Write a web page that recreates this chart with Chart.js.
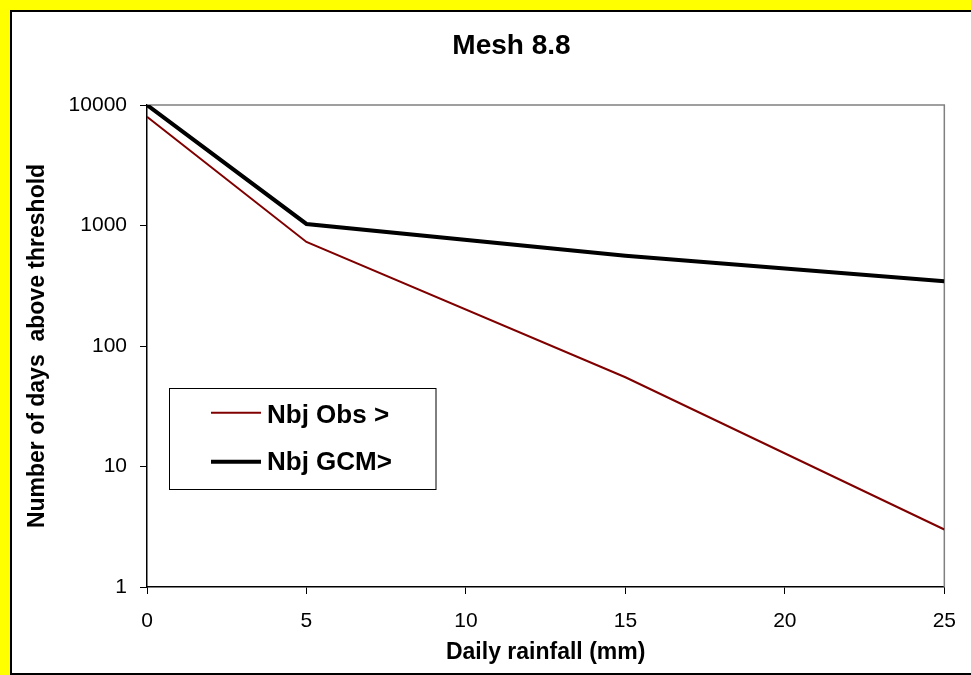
<!DOCTYPE html>
<html>
<head>
<meta charset="utf-8">
<script src="https://cdn.jsdelivr.net/npm/chart.js@4"></script>
<style>
  html,body{margin:0;padding:0;background:#ffff00;overflow:hidden;width:971px;height:675px}
  #frame{position:absolute;left:10px;top:10px;width:1000px;height:665px;box-sizing:border-box;border:2px solid #000;background:#fff}
  #wrap{position:absolute;left:0;top:0;width:959px;height:661px}
</style>
</head>
<body>
<div id="frame"><div id="wrap"><canvas id="chart"></canvas></div></div>
<script>
// data
const rainfall = [0, 5, 15, 25];
const obsDays = [8000, 730, 55, 3];
const gcmDays = [10000, 1030, 560, 345];
const yTicks = [1, 10, 100, 1000, 10000];
const xTicks = [0, 5, 10, 15, 20, 25];
const seriesNames = ['Nbj Obs >', 'Nbj GCM>'];
const chartTitle = 'Mesh 8.8';

const FONT = "'Liberation Sans', Arial, sans-serif";

function pts(ys){ return rainfall.map((x,i)=>({x:x,y:ys[i]})); }

// title, plot-area frame and legend box drawn by hand (Excel style)
const excelBits = {
  id:'excelBits',
  beforeDatasetsDraw(chart){
    const {ctx, chartArea:a} = chart;
    ctx.save();
    ctx.strokeStyle = '#808080';
    ctx.lineWidth = 1.5;
    ctx.beginPath();
    ctx.moveTo(a.left, a.top); ctx.lineTo(a.right, a.top); ctx.lineTo(a.right, a.bottom);
    ctx.stroke();
    ctx.restore();
  },
  afterDraw(chart){
    const ctx = chart.ctx;
    ctx.save();
    ctx.fillStyle = '#000';
    ctx.font = 'bold 28px ' + FONT;
    ctx.textAlign = 'center';
    ctx.textBaseline = 'alphabetic';
    ctx.fillText(chartTitle, 499.5, 42);

    // legend
    ctx.fillStyle = '#fff';
    ctx.fillRect(157.5, 376, 266.5, 101);
    ctx.strokeStyle = '#000';
    ctx.lineWidth = 1;
    ctx.strokeRect(157.5, 376.5, 266.5, 101);
    const rows = [400.7, 449.7];
    const base = [411.3, 458.3];
    chart.data.datasets.forEach((ds,i)=>{
      ctx.strokeStyle = ds.borderColor;
      ctx.lineWidth = ds.borderWidth;
      ctx.beginPath();
      ctx.moveTo(199, rows[i]); ctx.lineTo(249, rows[i]);
      ctx.stroke();
      ctx.fillStyle = '#000';
      ctx.font = 'bold 26px ' + FONT;
      ctx.textAlign = 'left';
      ctx.fillText(ds.label, 255, base[i]);
    });
    ctx.restore();
  }
};

new Chart(document.getElementById('chart'), {
  type:'line',
  data:{
    datasets:[
      {label:seriesNames[0], data:pts(obsDays), borderColor:'#800000', borderWidth:2, pointRadius:0, tension:0},
      {label:seriesNames[1], data:pts(gcmDays), borderColor:'#000000', borderWidth:4, pointRadius:0, tension:0}
    ]
  },
  options:{
    responsive:true,
    maintainAspectRatio:false,
    animation:false,
    layout:{padding:{top:93, right:25, left:0, bottom:0}},
    plugins:{legend:{display:false}, title:{display:false}, tooltip:{enabled:false}},
    scales:{
      x:{
        type:'linear', min:0, max:25,
        afterBuildTicks:s=>{ s.ticks = xTicks.map(v=>({value:v})); },
        afterFit:s=>{ s.height = 86; },
        grid:{drawOnChartArea:false, tickLength:7, tickColor:'#000', tickWidth:1},
        border:{color:'#000', width:1.5},
        ticks:{color:'#000', font:{family:FONT, size:21}, padding:15, maxRotation:0},
        title:{display:true, text:'Daily rainfall (mm)', color:'#000', font:{family:FONT, size:23, weight:'bold'}, padding:{top:0, bottom:7}}
      },
      y:{
        type:'logarithmic', min:1, max:10000,
        afterBuildTicks:s=>{ s.ticks = yTicks.map(v=>({value:v})); },
        afterFit:s=>{ s.width = 135; },
        grid:{drawOnChartArea:false, tickLength:7, tickColor:'#000', tickWidth:1},
        border:{color:'#000', width:1.5},
        ticks:{color:'#000', font:{family:FONT, size:21}, padding:13, callback:v=>String(v)},
        title:{display:true, text:'Number of days  above threshold', color:'#000', font:{family:FONT, size:23, weight:'bold'}, padding:{top:12, bottom:0}}
      }
    }
  },
  plugins:[excelBits]
});
</script>
</body>
</html>
